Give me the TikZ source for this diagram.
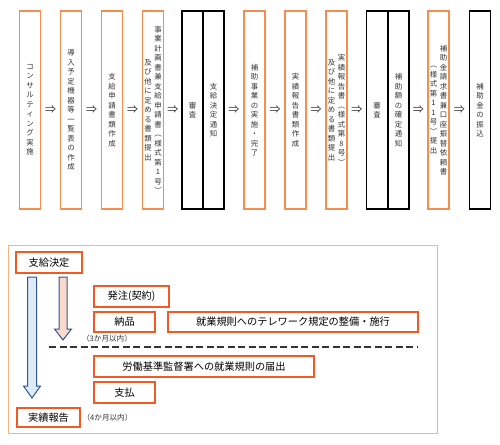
\documentclass[tikz,border=0pt]{standalone}
\usepackage{fontspec}
\newfontfamily\jp{Noto Sans CJK JP}
\usetikzlibrary{calc}
\definecolor{topor}{HTML}{F68D4E}
\definecolor{redor}{HTML}{F15A22}
\definecolor{frameor}{HTML}{F9B47E}
\definecolor{arrblue}{HTML}{2E5597}
\definecolor{lblue}{HTML}{DEEAF6}
\definecolor{lpink}{HTML}{FBD9CB}
\definecolor{txtgray}{HTML}{333333}
\makeatletter
\def\vtxt@a#1{\ifx#1\relax\else\hbox to 10bp{\hss#1\hss}\expandafter\vtxt@a\fi}
\newcommand\vcol[1]{$\vcenter{\baselineskip=9.5bp\lineskiplimit=-100pt\lineskip=0pt\vtxt@a#1\relax}$}
\makeatother
\tikzset{
  tb/.style={draw=topor, line width=1.5bp, minimum width=21bp, minimum height=198bp, inner sep=0pt,
    font=\jp\fontsize{7.4bp}{9.5bp}\selectfont, text=txtgray},
  bb/.style={tb, draw=black, line width=1.2bp},
  darr/.style={font=\jp\fontsize{11bp}{11bp}\selectfont, inner sep=0pt, text=txtgray},
  ob/.style={draw=redor, line width=2bp, inner sep=0pt, font=\jp\fontsize{10.2bp}{12bp}\selectfont, text=black},
  note/.style={font=\jp\fontsize{7.6bp}{8bp}\selectfont, inner sep=0pt, text=txtgray},
  blk/.style={draw=arrblue, line width=1bp, line join=miter},
  dline/.style={line width=1.5bp, dash pattern=on 7bp off 3.5bp, draw=txtgray}
}
\begin{document}
\begin{tikzpicture}[x=1bp,y=-1bp]
\useasboundingbox (0,0) rectangle (500,445);
% top row
\node[tb] (b1) at (30,110) {\vcol{コンサルティング実施}};
\node[tb] (b2) at (71,110) {\vcol{導入予定機器等一覧表の作成}};
\node[tb] (b3) at (112,110) {\vcol{支給申請書類作成}};
\node[tb] (b4) at (153,110) {\vcol{及び他に定める書類提出}\vcol{事業計画書兼支給申請書︵様式第1号︶}};
\node[bb] (b5a) at (192.5,110) {\vcol{審査}};
\node[bb] (b5b) at (213.5,110) {\vcol{支給決定通知}};
\node[tb] (b6) at (254.5,110) {\vcol{補助事業の実施・完了}};
\node[tb] (b7) at (295.5,110) {\vcol{実績報告書類作成}};
\node[tb] (b8) at (336.5,110) {\vcol{及び他に定める書類提出}\vcol{実績報告書︵様式第8号︶}};
\node[bb] (b9a) at (377,110) {\vcol{審査}};
\node[bb] (b9b) at (398.5,110) {\vcol{補助額の確定通知}};
\node[tb] (b10) at (438.5,110) {\vcol{︵様式第11号︶提出}\vcol{補助金請求書兼口座振替依頼書}};
\node[bb] (b11) at (480,110) {\vcol{補助金の振込}};
\foreach \a/\b [count=\i] in {b1/b2,b2/b3,b3/b4,b4/b5a,b5b/b6,b6/b7,b7/b8,b8/b9a,b9b/b10,b10/b11}
  \node[darr] (arr\i) at ($(\a.east)!0.5!(\b.west)$) {⇒};
% bottom frame
\draw[draw=frameor, line width=1bp] (8,245) rectangle (437,433);
\node[ob, minimum width=66bp, minimum height=21bp] (kettei) at (49,262.5) {支給決定};
\node[ob, minimum width=75bp, minimum height=21bp] (hatchu) at (131.5,296.5) {発注(契約)};
\node[ob, minimum width=61bp, minimum height=20bp] (nohin) at (124.5,322) {納品};
\node[ob, minimum width=250bp, minimum height=20bp] (kisoku) at (293,322) {就業規則へのテレワーク規定の整備・施行};
\node[ob, minimum width=220bp, minimum height=21bp] (todokede) at (204,366.5) {労働基準監督署への就業規則の届出};
\node[ob, minimum width=61bp, minimum height=21bp] (shiharai) at (124.5,392.5) {支払};
\node[ob, minimum width=63bp, minimum height=19bp] (jisseki) at (48.5,417.5) {実績報告};
\node[note] (n3) at (107,339) {（3か月以内）};
\node[note] (n4) at (107.5,418) {（4か月以内）};
% dashed separator
\coordinate (d1) at (49,347);
\coordinate (d2) at (418,347);
\draw[dline] (d1) -- (d2);
% block arrows
\filldraw[blk, fill=lblue] (27.5,277) -- (36.5,277) -- (36.5,386) -- (40.5,386) -- (32,398) -- (23.5,386) -- (27.5,386) -- cycle;
\filldraw[blk, fill=lpink] (59,277) -- (67,277) -- (67,329) -- (71.5,329) -- (63,340) -- (54.5,329) -- (59,329) -- cycle;
\end{tikzpicture}
\end{document}
